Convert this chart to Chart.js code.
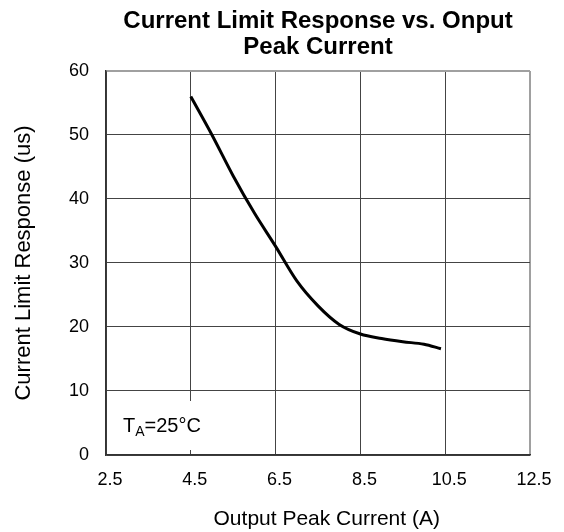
<!DOCTYPE html>
<html>
<head>
<meta charset="utf-8">
<script src="https://cdn.jsdelivr.net/npm/chart.js@4"></script>
<style>
  html, body { margin: 0; padding: 0; background: #fff; }
  #wrap { width: 564px; height: 532px; }
</style>
</head>
<body>
<div id="wrap"><canvas id="chart"></canvas></div>
<script>
// values
const peakCurrent = [4.5, 5.0, 5.5, 6.0, 6.5, 7.0, 7.5, 8.0, 8.5, 9.0, 9.5, 10.0, 10.4];
const responseUs = [56, 50, 43.6, 37.8, 32.6, 27.2, 23.3, 20.4, 18.9, 18.2, 17.7, 17.3, 16.6];
const xTicks = [2.5, 4.5, 6.5, 8.5, 10.5, 12.5];
const yTicks = [0, 10, 20, 30, 40, 50, 60];

const FONT = "'Liberation Sans', Arial, sans-serif";

// T_A=25°C note in the lower left corner, on a white box over the grid
const notePlugin = {
    id: 'note',
    afterDraw(chart) {
        const ctx = chart.ctx;
        const area = chart.chartArea;
        ctx.save();
        ctx.fillStyle = '#fff';
        ctx.fillRect(area.left + 3, area.bottom - 54, 96, 49);
        ctx.fillStyle = '#000';
        ctx.textBaseline = 'alphabetic';
        let x = area.left + 17;
        const base = area.bottom - 23;
        ctx.font = '20px ' + FONT;
        ctx.fillText('T', x, base);
        x += ctx.measureText('T').width;
        ctx.font = '14px ' + FONT;
        ctx.fillText('A', x, base + 4);
        x += ctx.measureText('A').width;
        ctx.font = '20px ' + FONT;
        ctx.fillText('=25°C', x, base);
        ctx.restore();
    }
};

const ctx = document.getElementById('chart').getContext('2d');
const chart = new Chart(ctx, {
    type: 'line',
    data: {
        datasets: [{
            data: peakCurrent.map((v, i) => ({ x: v, y: responseUs[i] })),
            borderColor: '#000',
            borderWidth: 3,
            pointRadius: 0,
            cubicInterpolationMode: 'monotone',
            fill: false
        }]
    },
    options: {
        responsive: true,
        maintainAspectRatio: false,
        animation: false,
        layout: { padding: { left: 0, right: 34, top: 0, bottom: 0 } },
        plugins: {
            legend: { display: false },
            tooltip: { enabled: false },
            title: {
                display: true,
                fullSize: false,
                text: ['Current Limit Response vs. Onput', 'Peak Current'],
                color: '#000',
                font: { family: FONT, size: 24, weight: 'bold', lineHeight: 1.083 },
                padding: { top: 8, bottom: 11 }
            }
        },
        scales: {
            x: {
                type: 'linear',
                min: 2.5,
                max: 12.5,
                afterBuildTicks: scale => { scale.ticks = xTicks.map(v => ({ value: v })); },
                afterFit: scale => { scale.height = 77; },
                ticks: {
                    color: '#000',
                    padding: 14,
                    labelOffset: 4,
                    maxRotation: 0,
                    font: { family: FONT, size: 18 },
                    callback: v => v.toFixed(1)
                },
                grid: {
                    drawTicks: false,
                    color: c => c.tick && c.tick.value === 12.5 ? '#a0a0a0' : '#444',
                    lineWidth: c => c.tick && c.tick.value === 12.5 ? 2 : 1
                },
                border: { color: '#333', width: 1.5 },
                title: {
                    display: true,
                    text: '   Output Peak Current (A)',
                    color: '#000',
                    font: { family: FONT, size: 21 },
                    padding: { top: 0, bottom: 0 }
                }
            },
            y: {
                min: 0,
                max: 60,
                afterBuildTicks: scale => { scale.ticks = yTicks.map(v => ({ value: v })); },
                afterFit: scale => { scale.width = 106; },
                ticks: {
                    color: '#000',
                    padding: 17,
                    font: { family: FONT, size: 18 }
                },
                grid: {
                    drawTicks: false,
                    color: c => c.tick && c.tick.value === 60 ? '#a0a0a0' : '#444',
                    lineWidth: c => c.tick && c.tick.value === 60 ? 2 : 1
                },
                border: { color: '#333', width: 1.5 },
                title: {
                    display: true,
                    text: 'Current Limit Response (us)',
                    color: '#000',
                    font: { family: FONT, size: 22 },
                    padding: { top: 11, bottom: 0 }
                }
            }
        }
    },
    plugins: [notePlugin]
});
</script>
</body>
</html>
